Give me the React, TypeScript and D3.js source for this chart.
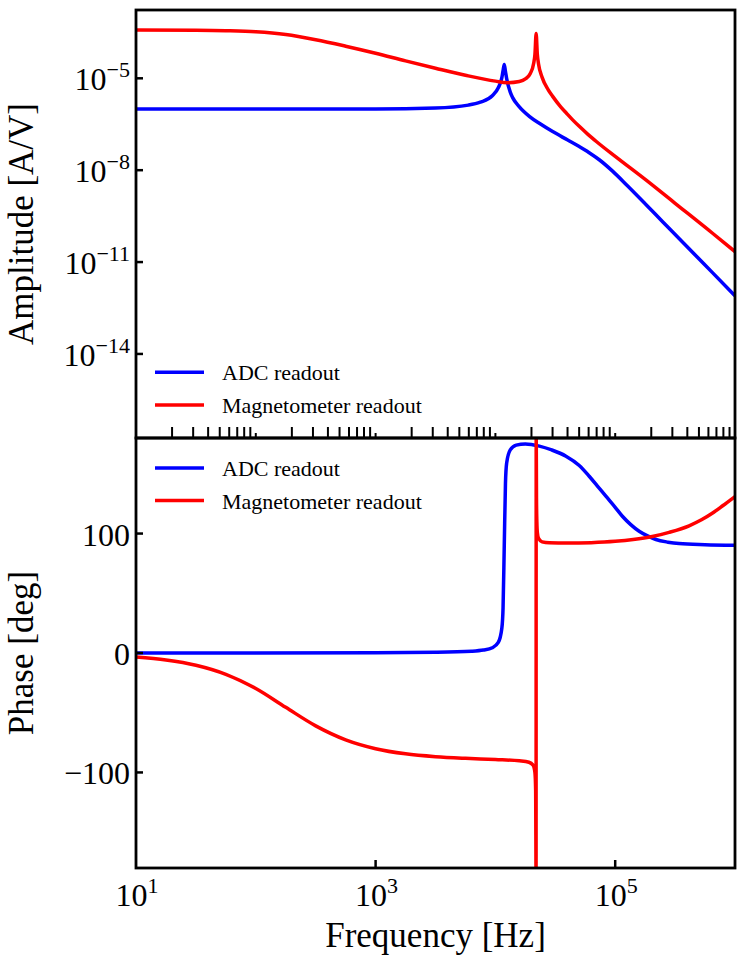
import { useEffect, useRef } from "react";
import * as d3 from "d3";

// frequency axis [Hz]
const freqDomain: [number, number] = [10, 1e6];

// amplitude of ADC readout [A/V]
const adcAmpFreq = [10, 1000, 3162, 5943, 7482, 9419, 10568, 11324, 11588, 11858, 12134, 12417, 13305, 13932, 15849, 19187, 23988, 30061, 39811, 50119, 60256, 73621, 95060, 125893, 180302, 251189, 341193, 467735, 645654, 1e6];
const adcAmp = [1.0e-6, 1.0e-6, 1.07e-6, 1.33e-6, 1.66e-6, 2.69e-6, 4.9e-6, 1.05e-5, 1.78e-5, 2.82e-5, 1.66e-5, 9.8e-6, 3.55e-6, 2.34e-6, 1.17e-6, 5.75e-7, 3.16e-7, 1.82e-7, 9.8e-8, 5.9e-8, 3.8e-8, 2.19e-8, 9.3e-9, 3.16e-9, 7.6e-10, 2.0e-10, 5.9e-11, 1.66e-11, 4.6e-12, 7.9e-13];

// amplitude of magnetometer readout [A/V]
const magAmpFreq = [10, 31.62, 56.23, 100, 177.8, 316.2, 562.3, 1000, 1778, 3162, 5623, 10000, 12589, 15849, 17783, 19498, 20893, 21380, 21878, 22387, 22909, 24547, 27542, 30061, 35075, 39811, 44157, 50119, 58884, 69984, 1e5, 180302, 316228, 645654, 1e6];
const magAmp = [3.8e-4, 3.72e-4, 3.59e-4, 3.31e-4, 2.69e-4, 1.82e-4, 1.12e-4, 6.6e-5, 3.72e-5, 2.14e-5, 1.26e-5, 8.1e-6, 7.2e-6, 7.9e-6, 9.5e-6, 1.41e-5, 3.16e-5, 6.0e-5, 2.88e-4, 6.0e-5, 2.95e-5, 1.07e-5, 4.27e-6, 2.57e-6, 1.17e-6, 6.8e-7, 4.4e-7, 2.7e-7, 1.51e-7, 8.5e-8, 2.82e-8, 4.8e-9, 8.3e-10, 8.9e-11, 2.19e-11];

// phase of ADC readout [deg]
const adcPhaseFreq = [10, 1000, 3162, 6310, 7943, 9419, 10568, 11324, 11588, 11858, 12134, 12417, 13305, 14928, 17783, 23281, 29512, 38815, 50119, 60674, 70795, 83560, 1e5, 114815, 134896, 158489, 186209, 218776, 275423, 341193, 562341, 1e6];
const adcPhase = [0, 0.2, 0.6, 1.5, 2.5, 4.4, 8.8, 21, 38, 90, 142, 159, 170, 174, 175, 173.2, 170, 164.8, 157, 148, 140, 131.3, 122, 114.5, 107.5, 101.9, 98, 95, 92.8, 91.6, 90.7, 90.2];

// phase of magnetometer readout [deg]
const magPhaseFreq = [10, 17.78, 31.62, 56.23, 100, 177.8, 316.2, 562.3, 1000, 1778, 3162, 5623, 10000, 15849, 19055, 20654, 21380, 21677, 21853, 21904, 22029, 22182, 22387, 22909, 24547, 28184, 39811, 63096, 1e5, 141254, 204174, 281838, 414000, 524807, 645654, 794328, 1e6];
const magPhase = [-3.3, -5.8, -10.2, -17.8, -29.7, -45.5, -61.0, -72.7, -80.1, -84.4, -86.8, -88.2, -89.2, -90.3, -91.5, -94, -100, -115, -190, 190, 130, 110, 101, 96, 93, 92.2, 92.0, 92.4, 93.5, 95, 97.5, 101, 106.5, 111.5, 117, 123.5, 131];

// ticks
const ampTicks = [1e-5, 1e-8, 1e-11, 1e-14];
const ampTickExp = ["−5", "−8", "−11", "−14"];
const phaseTicks = [-100, 0, 100];
const phaseTickLabels = ["−100", "0", "100"];
const freqTicks = [10, 1e3, 1e5];
const freqTickExp = ["1", "3", "5"];

const seriesNames = ["ADC readout", "Magnetometer readout"];
const seriesColors = ["#0000ff", "#ff0000"];

const zip = (a: number[], b: number[]) => a.map((v, i) => [v, b[i]] as [number, number]);

function BodePlot() {
    const svgRef = useRef<SVGSVGElement | null>(null);

    useEffect(() => {
        const W = 747, H = 962;
        const left = 136, right = 735;
        const top1 = 10, mid = 438, bot2 = 868;
        const font = "Liberation Serif, Times New Roman, serif";

        if (!svgRef.current) return;
        const svg = d3.select<SVGSVGElement, unknown>(svgRef.current);
        svg.selectAll("*").remove();
        svg.attr("width", W).attr("height", H);

        svg.append("rect").attr("width", W).attr("height", H).attr("fill", "#fff");

        // scales
        const x = d3.scaleLog().domain(freqDomain).range([left, right]);
        const yAmp = d3.scaleLog().domain([1.8e-17, 1.7e-3]).range([mid, top1]);
        const yPh = d3.scaleLinear().domain([-180, 180]).range([bot2, mid]);

        const label = (g: d3.Selection<any, unknown, null, undefined>, size: number) =>
            g.append("text").style("font-family", font).attr("font-size", size).attr("fill", "#000");

        const defs = svg.append("defs");
        defs.append("clipPath").attr("id", "clipAmp").append("rect")
            .attr("x", left).attr("y", top1).attr("width", right - left).attr("height", mid - top1);
        defs.append("clipPath").attr("id", "clipPh").append("rect")
            .attr("x", left).attr("y", mid).attr("width", right - left).attr("height", bot2 - mid);

        const ampLine = d3.line<[number, number]>()
            .x((d) => x(d[0]))
            .y((d) => yAmp(d[1]))
            .curve(d3.curveMonotoneX);
        const phLine = d3.line<[number, number]>()
            .x((d) => x(d[0]))
            .y((d) => yPh(d[1]))
            .curve(d3.curveMonotoneX);

        // amplitude curves
        const gAmp = svg.append("g").attr("clip-path", "url(#clipAmp)");
        [zip(adcAmpFreq, adcAmp), zip(magAmpFreq, magAmp)].forEach((s, i) => {
            gAmp.append("path").datum(s)
                .attr("fill", "none").attr("stroke", seriesColors[i]).attr("stroke-width", 3.5)
                .attr("stroke-linejoin", "round")
                .attr("d", ampLine);
        });

        // phase curves
        const gPh = svg.append("g").attr("clip-path", "url(#clipPh)");
        [zip(adcPhaseFreq, adcPhase), zip(magPhaseFreq, magPhase)].forEach((s, i) => {
            gPh.append("path").datum(s)
                .attr("fill", "none").attr("stroke", seriesColors[i]).attr("stroke-width", 3.5)
                .attr("stroke-linejoin", "round")
                .attr("d", phLine);
        });

        // x ticks on bottom of the amplitude panel (minor + short decade stubs)
        const gx1 = svg.append("g");
        x.ticks().forEach((f) => {
            const m = Math.round(f / Math.pow(10, Math.floor(Math.log10(f) + 1e-9)));
            if (f <= freqDomain[0] || f >= freqDomain[1]) return;
            const len = m === 1 ? 5 : 11;
            gx1.append("line")
                .attr("x1", x(f)).attr("x2", x(f))
                .attr("y1", mid).attr("y2", mid - len)
                .attr("stroke", "#000").attr("stroke-width", 2);
        });

        // amplitude y ticks
        const gy1 = svg.append("g");
        ampTicks.forEach((v, i) => {
            const y = yAmp(v);
            gy1.append("line").attr("x1", left).attr("x2", left + 7)
                .attr("y1", y).attr("y2", y).attr("stroke", "#000").attr("stroke-width", 2.5);
            const t = label(gy1, 32).attr("x", 130).attr("y", y + 11.7).attr("text-anchor", "end");
            t.append("tspan").text("10");
            t.append("tspan").attr("dy", -13).attr("font-size", 22).text(ampTickExp[i]);
        });

        // phase y ticks
        const gy2 = svg.append("g");
        phaseTicks.forEach((v, i) => {
            const y = yPh(v);
            gy2.append("line").attr("x1", left).attr("x2", left + 7)
                .attr("y1", y).attr("y2", y).attr("stroke", "#000").attr("stroke-width", 2.5);
            label(gy2, 32).attr("x", 130).attr("y", y + 12)
                .attr("text-anchor", "end").text(phaseTickLabels[i]);
        });

        // frequency ticks on bottom
        const gx2 = svg.append("g");
        freqTicks.forEach((f, i) => {
            const xx = x(f);
            if (f > freqDomain[0]) {
                gx2.append("line").attr("x1", xx).attr("x2", xx)
                    .attr("y1", bot2).attr("y2", bot2 - 8)
                    .attr("stroke", "#000").attr("stroke-width", 2.5);
            }
            const t = label(gx2, 32).attr("x", xx + 1).attr("y", 906).attr("text-anchor", "middle");
            t.append("tspan").text("10");
            t.append("tspan").attr("dy", -13).attr("font-size", 22).text(freqTickExp[i]);
        });

        // frames
        svg.append("rect").attr("x", left).attr("y", top1).attr("width", right - left).attr("height", mid - top1)
            .attr("fill", "none").attr("stroke", "#000").attr("stroke-width", 2.8);
        svg.append("rect").attr("x", left).attr("y", mid).attr("width", right - left).attr("height", bot2 - mid)
            .attr("fill", "none").attr("stroke", "#000").attr("stroke-width", 2.8);

        // legends
        const legendRows = [[372.3, 404.9], [468, 500.5]];
        legendRows.forEach((rows) => {
            const g = svg.append("g");
            rows.forEach((ly, i) => {
                g.append("line").attr("x1", 155).attr("x2", 204).attr("y1", ly).attr("y2", ly)
                    .attr("stroke", seriesColors[i]).attr("stroke-width", 3.5);
                label(g, 22).attr("x", 222).attr("y", ly + 8).text(seriesNames[i]);
            });
        });

        // axis titles
        label(svg, 35).attr("transform", `translate(33,${(top1 + mid) / 2}) rotate(-90)`)
            .attr("text-anchor", "middle").text("Amplitude [A/V]");
        label(svg, 35).attr("transform", `translate(33,${(mid + bot2) / 2}) rotate(-90)`)
            .attr("text-anchor", "middle").text("Phase [deg]");
        label(svg, 35).attr("x", (left + right) / 2).attr("y", 947)
            .attr("text-anchor", "middle").text("Frequency [Hz]");
    }, []);

    return <svg ref={svgRef} style={{ position: "absolute", left: 0, top: 0, display: "block" }}></svg>;
}

export default function App() {
    return <BodePlot />;
}
